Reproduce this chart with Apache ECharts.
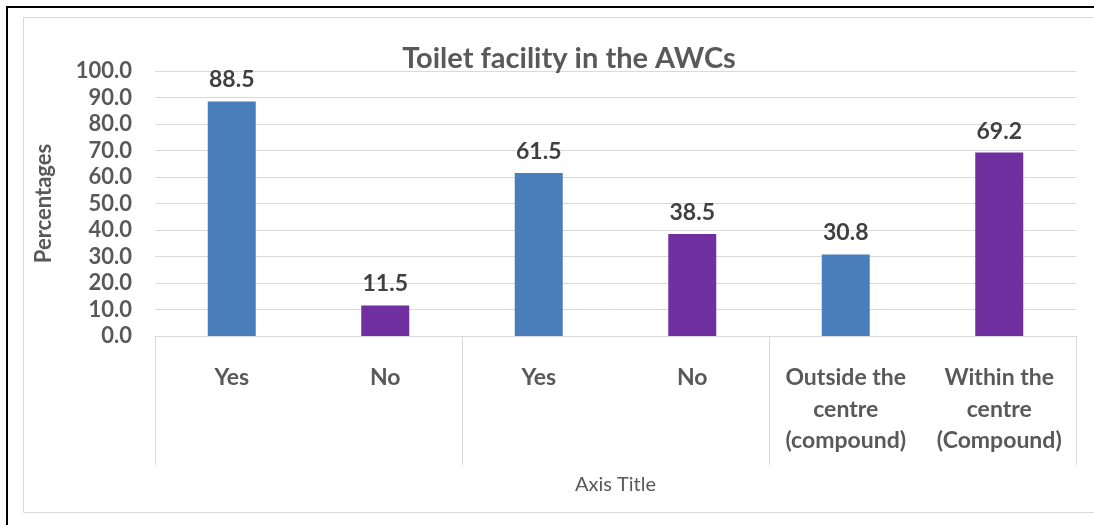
<!DOCTYPE html>
<html>
<head>
<meta charset="utf-8">
<script src="https://cdn.jsdelivr.net/npm/echarts@6/dist/echarts.min.js"></script>
<style>
  html, body { margin: 0; padding: 0; background: #fff; }
  #chart { width: 1094px; height: 525px; }
</style>
</head>
<body>
<div id="chart"></div>
<script>
// 分类与数值
var categories = ['Yes', 'No', 'Yes', 'No', 'Outside the\ncentre\n(compound)', 'Within the\ncentre\n(Compound)'];
var values = [88.5, 11.5, 61.5, 38.5, 30.8, 69.2];
var barColors = ['#4a7ebb', '#7030a0', '#4a7ebb', '#7030a0', '#4a7ebb', '#7030a0'];
var groups = ['', '', ''];

var chart = echarts.init(document.getElementById('chart'));

var textColor = '#595959';
var font = 'Lato';

chart.setOption({
    animation: false,
    title: {
        text: 'Toilet facility in the AWCs',
        left: 564,
        top: 39,
        textAlign: 'center',
        textStyle: { fontFamily: font, fontSize: 29, fontWeight: 'bold', color: textColor }
    },
    graphic: [
        // 外框
        { type: 'line', shape: { x1: 6, y1: 7, x2: 1094, y2: 7 }, style: { stroke: '#000', lineWidth: 2 } },
        { type: 'line', shape: { x1: 7, y1: 6, x2: 7, y2: 525 }, style: { stroke: '#000', lineWidth: 2 } },
        { type: 'rect', shape: { x: 23.5, y: 17.5, width: 1100, height: 495 }, style: { fill: 'none', stroke: '#d9d9d9', lineWidth: 1 } }
    ],
    grid: { left: 155, right: 18, top: 71, bottom: 189 },
    xAxis: [
        {
            type: 'category',
            data: categories,
            axisLine: { lineStyle: { color: '#d9d9d9' } },
            axisTick: { show: false },
            axisLabel: {
                interval: 0,
                margin: 26,
                lineHeight: 31.5,
                fontFamily: font,
                fontSize: 23,
                fontWeight: 'bold',
                color: textColor
            }
        },
        {
            // 分组分隔线
            type: 'category',
            data: groups,
            position: 'bottom',
            axisLine: { show: false },
            axisTick: { show: true, length: 129, lineStyle: { color: '#d9d9d9' } },
            axisLabel: { show: false },
            name: 'Axis Title',
            nameLocation: 'middle',
            nameGap: 139,
            nameTextStyle: { fontFamily: font, fontSize: 20, color: textColor }
        }
    ],
    yAxis: {
        type: 'value',
        min: 0,
        max: 100,
        interval: 10,
        name: 'Percentages',
        nameLocation: 'middle',
        nameGap: 100,
        nameTextStyle: { fontFamily: font, fontSize: 22, fontWeight: 'bold', color: textColor },
        axisLine: { show: false },
        axisTick: { show: false },
        splitLine: { lineStyle: { color: '#d9d9d9' } },
        axisLabel: {
            margin: 23,
            fontFamily: font,
            fontSize: 22,
            fontWeight: 'bold',
            color: textColor,
            formatter: function (v) { return v.toFixed(1); }
        }
    },
    series: [
        {
            type: 'bar',
            xAxisIndex: 0,
            barWidth: 48,
            data: values.map(function (v, i) {
                return { value: v, itemStyle: { color: barColors[i] } };
            }),
            label: {
                show: true,
                position: 'top',
                distance: 10,
                fontFamily: font,
                fontSize: 23,
                fontWeight: 'bold',
                color: '#404040',
                formatter: function (p) { return p.value.toFixed(1); }
            }
        }
    ]
});
</script>
</body>
</html>
